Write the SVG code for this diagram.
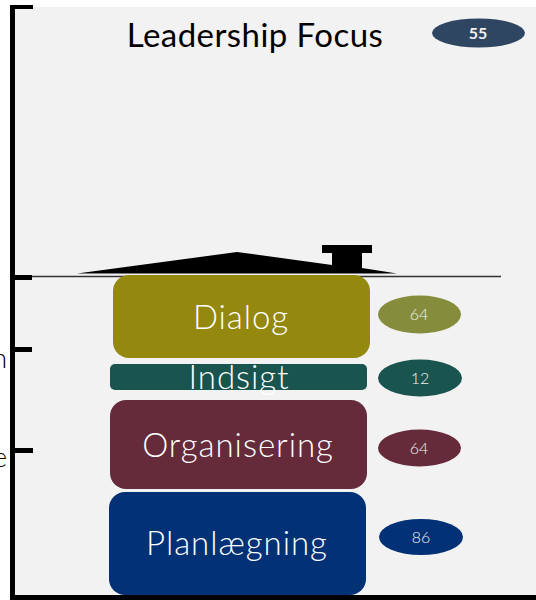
<svg xmlns="http://www.w3.org/2000/svg" width="536" height="600" viewBox="0 0 536 600">
<style>
text{font-family:"Lato","Liberation Sans",sans-serif}
.big{font-size:33px;fill:#fff;text-anchor:middle;font-weight:300;letter-spacing:.95px}
.num{font-size:16px;fill:#f2f2f2;text-anchor:middle;font-weight:300}
.side{font-size:27px;fill:#000;text-anchor:end;font-weight:300}
.axis{fill:#000}
</style>
<rect width="536" height="600" fill="#fff"/>
<rect x="14" y="7" width="522" height="588" fill="#f2f2f2"/>
<g id="axis">
<rect class="axis" x="10" y="5" width="5" height="595"/>
<rect class="axis" x="10" y="5" width="23" height="4"/>
<rect class="axis" x="10" y="275" width="22" height="5"/>
<rect class="axis" x="10" y="347" width="22" height="5"/>
<rect class="axis" x="10" y="448" width="23" height="5"/>
<rect class="axis" x="10" y="595" width="526" height="5"/>
</g>
<g id="labels">
<text class="side" x="7" y="368">n</text>
<text class="side" x="7" y="467">e</text>
</g>
<g id="connectors">
<line x1="32" y1="276.500" x2="501" y2="276.500" stroke="#333" stroke-width="1.300"/>
</g>
<g id="roof"><path d="M77 273.500L237 252L332 265V253H322V245H372V253H362V268L397 273.500Z" fill="#000"/></g>
<g id="title"><text x="255" y="47" font-size="33" text-anchor="middle" fill="#000" letter-spacing=".45">Leadership Focus</text></g>
<g id="badge-55"><ellipse cx="478.500" cy="33" rx="46.500" ry="14.500" fill="#2e4661"/><text x="478" y="39" font-size="16" font-weight="700" text-anchor="middle" fill="#f2f2f2">55</text></g>
<g id="dialog"><rect x="113" y="275" width="257" height="83" rx="16" fill="#94890e"/><text class="big" x="241" y="329">Dialog</text></g>
<g id="indsigt"><rect x="110" y="364" width="257" height="26" rx="5" fill="#19544f"/><text class="big" x="239" y="389">Indsigt</text></g>
<g id="organisering"><rect x="110" y="400" width="257" height="89" rx="16" fill="#652b3b"/><text class="big" x="238" y="457">Organisering</text></g>
<g id="planlaegning"><rect x="109" y="492" width="257" height="103" rx="16" fill="#023176"/><text class="big" x="237" y="555">Planlægning</text></g>
<g id="badge-64a"><ellipse cx="419.500" cy="314.500" rx="41.500" ry="19" fill="#858c3c"/><text class="num" x="419" y="320">64</text></g>
<g id="badge-12"><ellipse cx="420" cy="378" rx="42" ry="18.500" fill="#19544f"/><text class="num" x="420" y="384">12</text></g>
<g id="badge-64b"><ellipse cx="419.500" cy="448" rx="41.500" ry="18.500" fill="#652b3b"/><text class="num" x="419" y="454">64</text></g>
<g id="badge-86"><ellipse cx="421" cy="537" rx="42" ry="18" fill="#023176"/><text class="num" x="421" y="543">86</text></g>
</svg>
